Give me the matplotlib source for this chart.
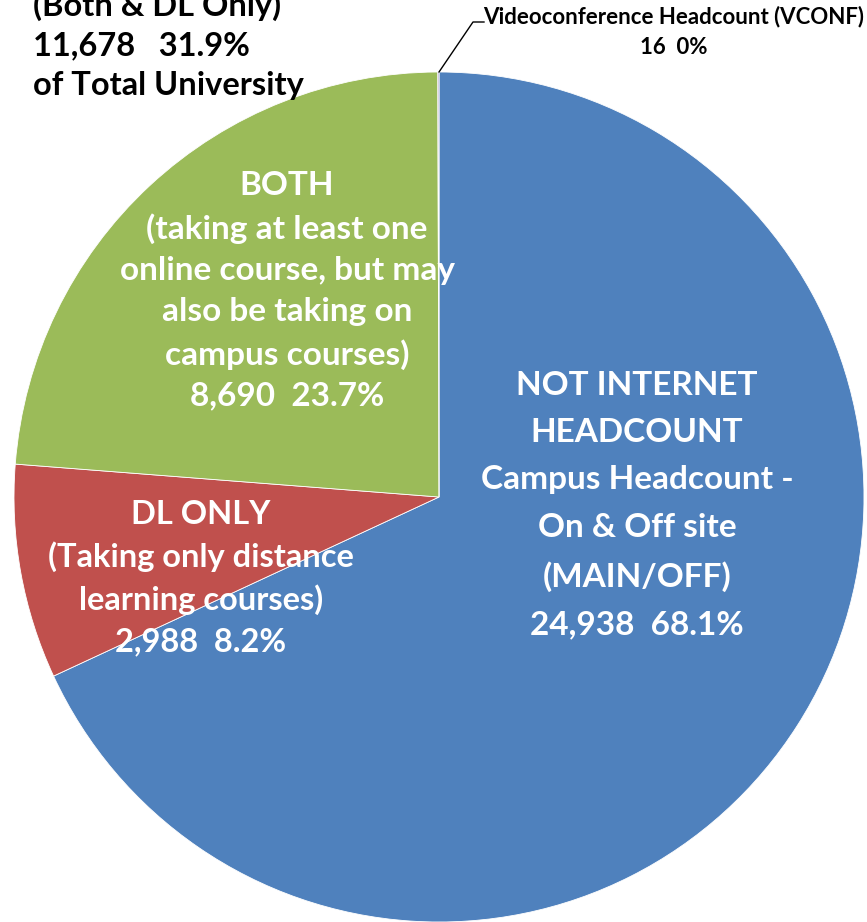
import matplotlib
matplotlib.use("Agg")
import matplotlib.pyplot as plt

categories = ["NOT INTERNET HEADCOUNT", "DL ONLY", "BOTH", "VCONF"]
values = [24938, 2988, 8690, 16]
percents = ["68.1%", "8.2%", "23.7%", "0%"]
colors = ["#4F81BD", "#C0504D", "#9BBB59", "#8064A2"]

label_main = "NOT INTERNET\nHEADCOUNT\nCampus Headcount -\nOn & Off site\n(MAIN/OFF)\n{:,}  {}".format(values[0], percents[0])
label_dl = "DL ONLY\n(Taking only distance\nlearning courses)\n{:,}  {}".format(values[1], percents[1])
label_both = "BOTH\n(taking at least one\nonline course, but may\nalso be taking on\ncampus courses)\n{:,}  {}".format(values[2], percents[2])
label_vconf = "Videoconference Headcount (VCONF)\n{}  {}".format(values[3], percents[3])
total_internet = values[1] + values[2]
label_total = "(Both & DL Only)\n{:,}   31.9%\nof Total University".format(total_internet)

plt.rcParams['font.family'] = ['Lato', 'DejaVu Sans']

W, H = 867, 922
fig = plt.figure(figsize=(W/100, H/100), dpi=100)
ax = fig.add_axes([0, 0, 1, 1])

cx, cy, r = 439, H - 497, 425
ax.pie(values, colors=colors, startangle=90, counterclock=False,
       center=(cx, cy), radius=r, frame=True,
       wedgeprops=dict(edgecolor='white', linewidth=0.6))
ax.set_xlim(0, W)
ax.set_ylim(0, H)
ax.axis('off')

ax.text(637, H - 505, label_main, ha='center', va='center', color='white',
        fontsize=24, fontweight='bold', linespacing=1.76)
ax.text(287, H - 291, label_both, ha='center', va='center', color='white',
        fontsize=24, fontweight='bold', linespacing=1.5)
ax.text(201, H - 578, label_dl, ha='center', va='center', color='white',
        fontsize=23.5, fontweight='bold', linespacing=1.48)
ax.text(674, H - 32, label_vconf, ha='center', va='center', color='black',
        fontsize=16, fontweight='bold', linespacing=1.56)
ax.text(33, H - 45, label_total, ha='left', va='center', color='black',
        fontsize=23.5, fontweight='bold', linespacing=1.45)

ax.plot([439, 473, 484], [H - 72, H - 22, H - 22], color='black', linewidth=1)

fig.savefig("out.png", dpi=100)
